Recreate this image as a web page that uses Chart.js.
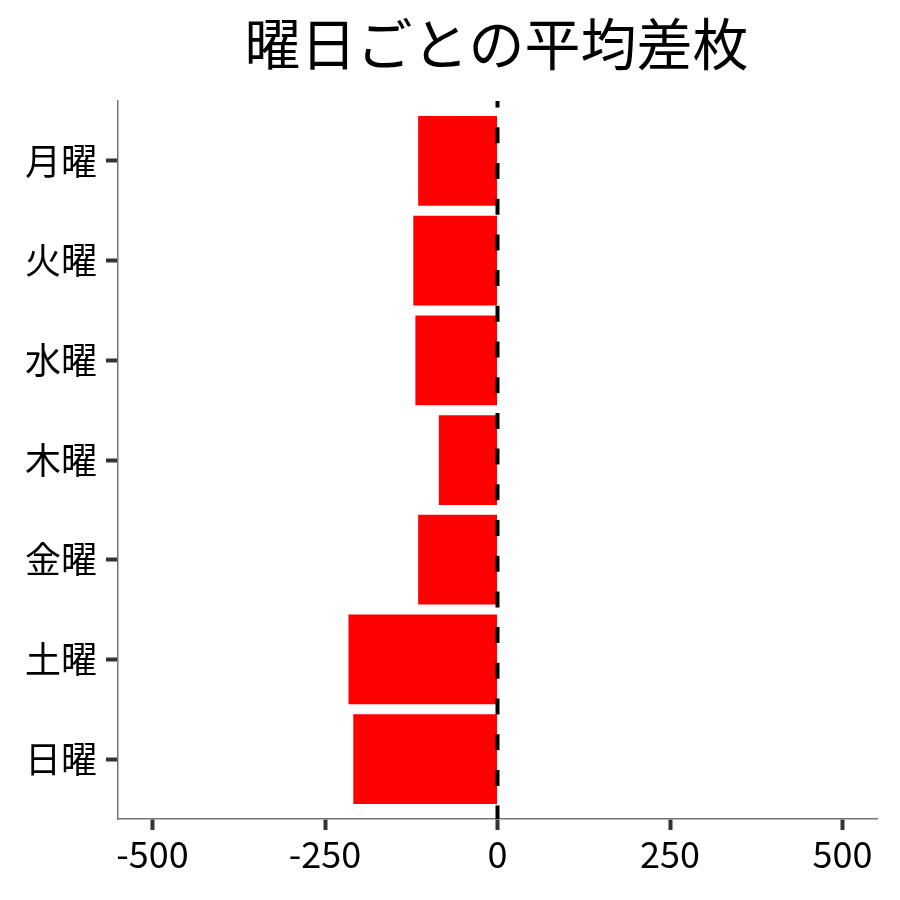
<!DOCTYPE html>
<html>
<head>
<meta charset="utf-8">
<script src="https://cdn.jsdelivr.net/npm/chart.js@4.4.0/dist/chart.umd.min.js"></script>
<style>
  html, body { margin: 0; padding: 0; background: #fff; }
  #wrap { width: 900px; height: 900px; }
</style>
</head>
<body>
<div id="wrap"><canvas id="chart"></canvas></div>
<script>
"use strict";

// ---------- data ----------
const titleText = "曜日ごとの平均差枚";
const days = ["月曜", "火曜", "水曜", "木曜", "金曜", "土曜", "日曜"];
const avgDiff = [-115, -122, -119, -85, -115, -216, -209];
const xTicks = [-500, -250, 0, 250, 500];

const FONT = "'Noto Sans CJK JP', 'Noto Sans', sans-serif";

// title, centred over the plot panel
const topTitle = {
  id: "topTitle",
  afterDraw(chart) {
    let ctx = chart.ctx;
    let area = chart.chartArea;
    ctx.save();
    ctx.fillStyle = "#000";
    ctx.font = "56px " + FONT;
    ctx.textAlign = "center";
    ctx.textBaseline = "middle";
    ctx.fillText(titleText, (area.left + area.right) / 2 - 1, 44);
    ctx.restore();
  }
};

// dashed line at x = 0
const zeroLine = {
  id: "zeroLine",
  afterDatasetsDraw(chart) {
    let ctx = chart.ctx;
    let area = chart.chartArea;
    let x = chart.scales.x.getPixelForValue(0);
    ctx.save();
    ctx.strokeStyle = "#000";
    ctx.lineWidth = 4;
    ctx.setLineDash([16, 19.7]);
    ctx.lineDashOffset = 9.4;
    ctx.beginPath();
    ctx.moveTo(x, area.top);
    ctx.lineTo(x, area.bottom);
    ctx.stroke();
    ctx.restore();
  }
};

let ctx = document.getElementById("chart").getContext("2d");
let chart = new Chart(ctx, {
  type: "bar",
  data: {
    datasets: [{
      data: days.map((d, i) => ({ x: avgDiff[i], y: i })),
      backgroundColor: "#ff0000",
      borderWidth: 0,
      barPercentage: 0.9,
      categoryPercentage: 1
    }]
  },
  options: {
    indexAxis: "y",
    responsive: true,
    maintainAspectRatio: false,
    animation: false,
    layout: { padding: { left: 0, right: 23, top: 101, bottom: 0 } },
    plugins: {
      legend: { display: false },
      tooltip: { enabled: false },
      title: { display: false }
    },
    scales: {
      x: {
        type: "linear",
        min: -550,
        max: 550,
        afterBuildTicks(scale) {
          scale.ticks = xTicks.map(v => ({ value: v }));
        },
        afterFit(scale) { scale.height = 81; },
        grid: {
          drawOnChartArea: false,
          drawTicks: true,
          tickLength: 11,
          tickWidth: 4,
          tickColor: "#333"
        },
        border: { display: true, color: "#777", width: 1.5 },
        ticks: {
          color: "#000",
          padding: 3,
          font: { family: FONT, size: 36 }
        }
      },
      y: {
        type: "linear",
        reverse: true,
        offset: false,
        min: -0.6,
        max: 6.6,
        afterBuildTicks(scale) {
          scale.ticks = days.map((d, i) => ({ value: i }));
        },
        afterFit(scale) { scale.width = 118; },
        grid: {
          offset: false,
          drawOnChartArea: false,
          drawTicks: true,
          tickLength: 12,
          tickWidth: 4,
          tickColor: "#333"
        },
        border: { display: true, color: "#777", width: 1.5 },
        ticks: {
          color: "#000",
          padding: 9,
          font: { family: FONT, size: 36 },
          callback: function (value) { return days[value]; }
        }
      }
    }
  },
  plugins: [zeroLine, topTitle]
});
</script>
</body>
</html>
